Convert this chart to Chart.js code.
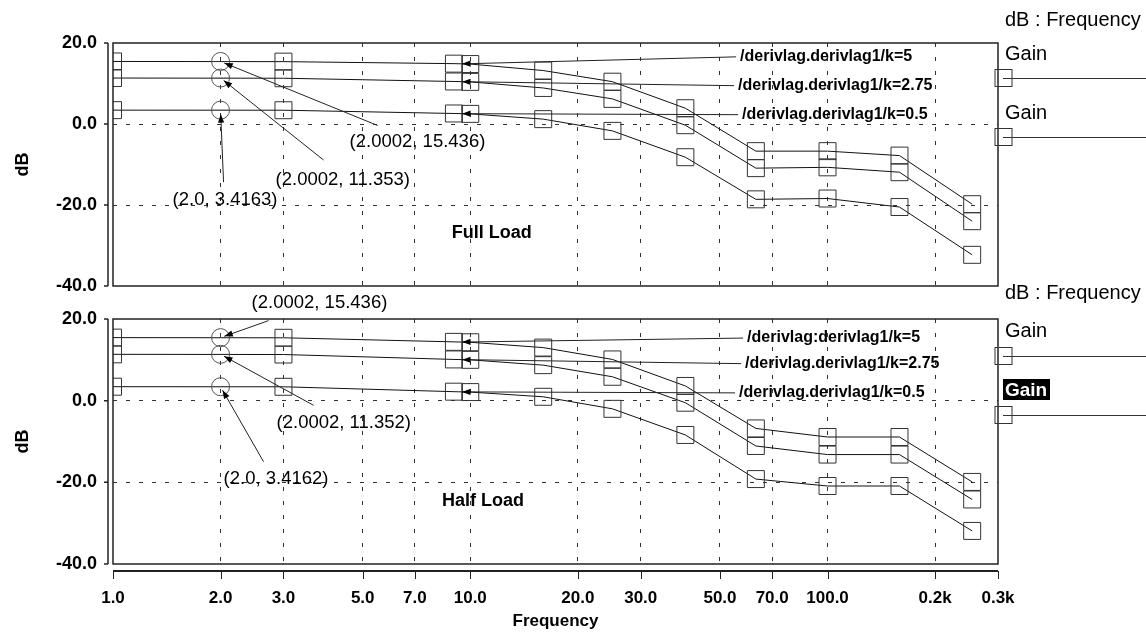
<!DOCTYPE html>
<html>
<head>
<meta charset="utf-8">
<script src="https://cdn.jsdelivr.net/npm/chart.js@4.4.1/dist/chart.umd.min.js"></script>
<style>
  html, body { margin: 0; padding: 0; background: #fff; }
  #wrap { position: relative; width: 1146px; height: 635px; }
  canvas { position: absolute; left: 0; top: 0; }
</style>
</head>
<body>
<div id="wrap">
  <canvas id="fullChart" width="1146" height="635"></canvas>
  <canvas id="halfChart" width="1146" height="635"></canvas>
</div>
<script>
// frequencies where the traces carry a marker
const freqs = [1, 3, 9, 10, 16, 25, 40, 63, 100, 159, 254];
const xTicks = [1, 2, 3, 5, 7, 10, 20, 30, 50, 70, 100, 200, 300];
const yTicks = [-40, -20, 0, 20];

// Full Load (dB)
const fullK5 = [15.44, 15.4, 14.9, 14.8, 13.2, 10.45, 3.9, -6.7, -6.7, -7.8, -19.8];
const fullK275 = [11.35, 11.3, 10.5, 10.4, 8.9, 6.2, -0.3, -10.9, -10.7, -11.9, -24.0];
const fullK05 = [3.42, 3.4, 2.6, 2.5, 1.2, -1.7, -8.2, -18.6, -18.4, -20.5, -32.3];

// Half Load (dB)
const halfK5 = [15.44, 15.4, 14.4, 14.3, 13.0, 10.1, 3.6, -6.8, -8.9, -8.9, -19.9];
const halfK275 = [11.35, 11.3, 10.1, 10.0, 8.7, 5.85, -0.5, -11.1, -13.2, -13.2, -24.2];
const halfK05 = [3.42, 3.4, 2.2, 2.1, 0.95, -2.0, -8.4, -19.2, -20.9, -20.9, -31.9];

const fullNames = ["/derivlag.derivlag1/k=5", "/derivlag.derivlag1/k=2.75", "/derivlag.derivlag1/k=0.5"];
const halfNames = ["/derivlag:derivlag1/k=5", "/derivlag.derivlag1/k=2.75", "/derivlag.derivlag1/k=0.5"];

// cursor marks at ~2 Hz
const cursorX = [2.0002, 2.0002, 2.0];
const fullCursorY = [15.436, 11.353, 3.4163];
const halfCursorY = [15.436, 11.352, 3.4162];
const fullCursorText = ["(2.0002, 15.436)", "(2.0002, 11.353)", "(2.0, 3.4163)"];
const halfCursorText = ["(2.0002, 15.436)", "(2.0002, 11.352)", "(2.0, 3.4162)"];

const FONT = '"Liberation Sans", Arial, sans-serif';
Chart.defaults.font.family = FONT;
Chart.defaults.color = "#000";

function drawArrow(ctx, x0, y0, x1, y1) {
  const a = Math.atan2(y1 - y0, x1 - x0);
  ctx.beginPath();
  ctx.moveTo(x0, y0);
  ctx.lineTo(x1, y1);
  ctx.stroke();
  ctx.beginPath();
  ctx.moveTo(x1, y1);
  ctx.lineTo(x1 - 9 * Math.cos(a - 0.35), y1 - 9 * Math.sin(a - 0.35));
  ctx.lineTo(x1 - 9 * Math.cos(a + 0.35), y1 - 9 * Math.sin(a + 0.35));
  ctx.closePath();
  ctx.fill();
}

const decor = {
  id: "decor",
  afterDraw(chart, args, o) {
    const { ctx, chartArea: a, scales: { x, y } } = chart;
    ctx.save();
    ctx.strokeStyle = "#222";
    ctx.fillStyle = "#000";

    // frame
    ctx.lineWidth = 1.5;
    ctx.strokeRect(a.left, a.top, a.right - a.left, a.bottom - a.top);

    // detached y axis line
    const ax = a.left - 5;
    ctx.beginPath();
    ctx.moveTo(ax, a.top);
    ctx.lineTo(ax, a.bottom);
    yTicks.forEach(v => {
      const py = y.getPixelForValue(v);
      ctx.moveTo(ax, py);
      ctx.lineTo(ax - 4, py);
    });
    ctx.stroke();

    if (o.xAxisLine) {
      const ay = a.bottom + 7;
      ctx.lineWidth = 2;
      ctx.beginPath();
      ctx.moveTo(a.left, ay);
      ctx.lineTo(a.right, ay);
      ctx.stroke();
      ctx.lineWidth = 1;
      ctx.beginPath();
      xTicks.forEach(v => {
        const px = Math.round(x.getPixelForValue(v)) + 0.5;
        ctx.moveTo(px, ay);
        ctx.lineTo(px, ay + 8);
      });
      ctx.stroke();
    }

    // panel caption
    ctx.font = "bold 18px " + FONT;
    ctx.textAlign = "center";
    ctx.textBaseline = "middle";
    ctx.fillText(o.caption, a.left + (a.right - a.left) * o.captionPos[0], a.top + (a.bottom - a.top) * o.captionPos[1]);

    // cursors with value labels
    ctx.lineWidth = 1;
    ctx.textAlign = "left";
    ctx.font = "18.5px " + FONT;
    o.cursorY.forEach((cy, i) => {
      const px = x.getPixelForValue(cursorX[i]);
      const py = y.getPixelForValue(cy);
      ctx.strokeStyle = "#555";
      ctx.beginPath();
      ctx.arc(px, py, 9, 0, Math.PI * 2);
      ctx.stroke();
      ctx.setLineDash([1, 2]);
      ctx.beginPath();
      ctx.moveTo(px - 8, py);
      ctx.lineTo(px + 8, py);
      ctx.stroke();
      ctx.setLineDash([]);
      const [lx, ly, sx, sy] = o.cursorOffsets[i];
      const len = Math.hypot(sx, sy);
      ctx.strokeStyle = "#222";
      drawArrow(ctx, px + sx, py + sy, px + 4 * sx / len, py + 4 * sy / len);
      ctx.fillText(o.cursorText[i], px + lx, py + ly);
    });

    // trace name pointers
    ctx.font = "bold 16px " + FONT;
    o.names.forEach((name, i) => {
      const meta = chart.getDatasetMeta(i);
      const p2 = meta.data[2], p3 = meta.data[3];
      const tx = (p2.x + p3.x) / 2, ty = (p2.y + p3.y) / 2;
      const [dx, dy] = o.nameOffsets[i];
      drawArrow(ctx, tx + dx - 4, ty + dy, tx, ty);
      ctx.fillText(name, tx + dx, ty + dy);
    });

    // legend to the right of the plot
    const lx = a.right + 7;
    ctx.font = "20px " + FONT;
    ctx.textBaseline = "alphabetic";
    ctx.fillText("dB : Frequency", lx, o.legendTop);
    o.legendItems.forEach(it => {
      if (it.highlight) {
        ctx.fillRect(lx - 2, it.textY - 17, 47, 21);
        ctx.fillStyle = "#fff";
        ctx.font = "bold 19px " + FONT;
        ctx.fillText("Gain", lx, it.textY);
        ctx.fillStyle = "#000";
        ctx.font = "20px " + FONT;
      } else {
        ctx.fillText("Gain", lx, it.textY);
      }
      ctx.strokeStyle = "#333";
      ctx.lineWidth = 1;
      ctx.strokeRect(a.right - 3, it.lineY - 8.5, 17, 17);
      ctx.beginPath();
      ctx.moveTo(a.right + 5, it.lineY + 0.5);
      ctx.lineTo(chart.width, it.lineY + 0.5);
      ctx.stroke();
    });
    ctx.restore();
  }
};

function makeDatasets(series) {
  return series.map(vals => ({
    data: freqs.map((f, i) => ({ x: f, y: vals[i] })),
    borderColor: "#111",
    borderWidth: 1,
    pointStyle: "rect",
    pointRadius: 12,
    pointBorderWidth: 1,
    pointBorderColor: "#333",
    pointBackgroundColor: "rgba(0,0,0,0)",
    tension: 0
  }));
}

function makeChart(id, series, decorOpts, bottomAxis) {
  return new Chart(document.getElementById(id), {
    type: "line",
    data: { datasets: makeDatasets(series) },
    plugins: [decor],
    options: {
      responsive: false,
      animation: false,
      devicePixelRatio: 1,
      layout: { padding: decorOpts.padding },
      plugins: { legend: { display: false }, tooltip: { enabled: false }, decor: decorOpts },
      scales: {
        x: {
          type: "logarithmic",
          min: 1,
          max: 300,
          afterBuildTicks: s => { s.ticks = xTicks.map(v => ({ value: v })); },
          afterFit: s => { s.height = bottomAxis ? 71 : 0; },
          grid: {
            drawTicks: false,
            lineWidth: 1,
            color: c => (c.tick && (c.tick.value === 1 || c.tick.value === 300)) ? "rgba(0,0,0,0)" : "#333"
          },
          border: { display: false, dash: [4, 10] },
          ticks: {
            display: bottomAxis,
            padding: 24,
            maxRotation: 0,
            autoSkip: false,
            font: { size: 17, weight: "bold" },
            callback: v => v >= 200 ? (v / 1000).toFixed(1) + "k" : Number(v).toFixed(1)
          },
          title: { display: bottomAxis, text: "Frequency", font: { size: 17, weight: "bold" }, padding: { top: 0, bottom: 3 } }
        },
        y: {
          min: -40,
          max: 20,
          afterBuildTicks: s => { s.ticks = yTicks.map(v => ({ value: v })); },
          afterFit: s => { s.width = 113; },
          grid: {
            drawTicks: false,
            lineWidth: 1,
            color: c => (c.tick && (c.tick.value === 20 || c.tick.value === -40)) ? "rgba(0,0,0,0)" : "#333"
          },
          border: { display: false, dash: [4, 9] },
          ticks: { padding: 16, font: { size: 18, weight: "bold" }, callback: v => Number(v).toFixed(1) },
          title: { display: true, text: "dB", font: { size: 18, weight: "bold" }, padding: { top: 12, bottom: 0 } }
        }
      }
    }
  });
}

makeChart("fullChart", [fullK5, fullK275, fullK05], {
  padding: { top: 43, bottom: 349, left: 0, right: 148 },
  xAxisLine: false,
  caption: "Full Load",
  captionPos: [0.428, 0.78],
  cursorY: fullCursorY,
  cursorText: fullCursorText,
  cursorOffsets: [[129, 80, 157, 64], [55, 102, 103, 82], [-48, 90, 3, 72]],
  names: fullNames,
  nameOffsets: [[278, -7], [276, 4], [280, 1]],
  legendTop: 26,
  legendItems: [{ textY: 60, lineY: 78 }, { textY: 119, lineY: 137 }]
}, false);

makeChart("halfChart", [halfK5, halfK275, halfK05], {
  padding: { top: 319, bottom: 0, left: 0, right: 148 },
  xAxisLine: true,
  caption: "Half Load",
  captionPos: [0.418, 0.743],
  cursorY: halfCursorY,
  cursorText: halfCursorText,
  cursorOffsets: [[31, -35, 48, -17], [56, 69, 93, 51], [3, 92, 43, 75]],
  names: halfNames,
  nameOffsets: [[285, -4], [283, 4], [277, 1]],
  legendTop: 299,
  legendItems: [{ textY: 337, lineY: 356 }, { textY: 396, lineY: 415, highlight: true }]
}, true);
</script>
</body>
</html>
